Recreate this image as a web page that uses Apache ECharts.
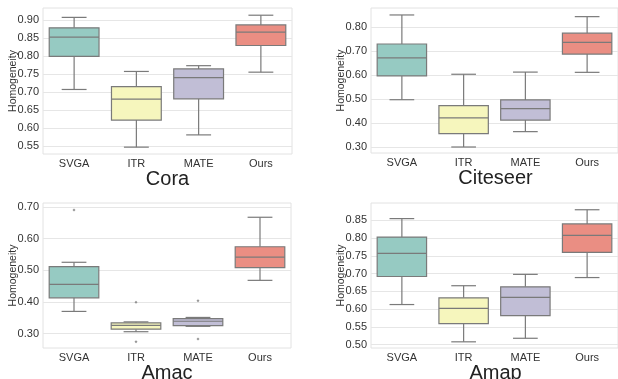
<!DOCTYPE html>
<html>
<head>
<meta charset="utf-8">
<script src="https://cdn.jsdelivr.net/npm/echarts@6/dist/echarts.min.js"></script>
<style>html,body{margin:0;padding:0;background:#fff;}#c{width:618px;height:379px;}</style>
</head>
<body>
<div id="c"></div>
<script>
// ---- data ----
const categories = ['SVGA', 'ITR', 'MATE', 'Ours'];
// [min whisker, Q1, median, Q3, max whisker]
const coraStats = [[0.707, 0.799, 0.852, 0.878, 0.907], [0.547, 0.622, 0.680, 0.715, 0.757], [0.581, 0.681, 0.740, 0.764, 0.773], [0.755, 0.829, 0.866, 0.886, 0.913]];
const citeseerStats = [[0.497, 0.596, 0.671, 0.729, 0.850], [0.300, 0.356, 0.421, 0.472, 0.603], [0.364, 0.412, 0.460, 0.496, 0.612], [0.611, 0.687, 0.736, 0.774, 0.843]];
const amacStats = [[0.370, 0.413, 0.455, 0.511, 0.525], [0.306, 0.314, 0.326, 0.334, 0.337], [0.323, 0.325, 0.339, 0.347, 0.351], [0.468, 0.508, 0.541, 0.574, 0.667]];
const amacOutliers = [[0, 0.690], [1, 0.399], [1, 0.274], [2, 0.404], [2, 0.283]];
const amapStats = [[0.613, 0.692, 0.757, 0.803, 0.855], [0.508, 0.559, 0.602, 0.632, 0.666], [0.518, 0.582, 0.633, 0.663, 0.698], [0.689, 0.760, 0.808, 0.840, 0.880]];
const coraTicks = [0.55, 0.60, 0.65, 0.70, 0.75, 0.80, 0.85, 0.90];
const citeseerTicks = [0.30, 0.40, 0.50, 0.60, 0.70, 0.80];
const amacTicks = [0.30, 0.40, 0.50, 0.60, 0.70];
const amapTicks = [0.50, 0.55, 0.60, 0.65, 0.70, 0.75, 0.80, 0.85];
const titles = ['Cora', 'Citeseer', 'Amac', 'Amap'];

// ---- style ----
const palette = ['#96cac2', '#f6f6bd', '#c1bed6', '#ea8e83'];
const lineGray = '#7a7a7a';
const font = 'Liberation Sans, Arial, sans-serif';

const panels = [
  { stats: coraStats, ticks: coraTicks, range: [0.528, 0.933], grid: { left: 43, top: 8, width: 249, height: 146 }, outliers: [] },
  { stats: citeseerStats, ticks: citeseerTicks, range: [0.275, 0.879], grid: { left: 371, top: 8, width: 249, height: 145 }, outliers: [] },
  { stats: amacStats, ticks: amacTicks, range: [0.2546, 0.712], grid: { left: 43, top: 203, width: 248, height: 145 }, outliers: amacOutliers },
  { stats: amapStats, ticks: amapTicks, range: [0.4906, 0.899], grid: { left: 371, top: 203, width: 249, height: 145 }, outliers: [] }
];

function renderBox(params, api) {
  const i = api.value(0);
  const band = api.size([1, 0])[0];
  const bw = band * 0.8, cw = band * 0.4;
  const pMin = api.coord([i, api.value(1)]);
  const pQ1 = api.coord([i, api.value(2)]);
  const pMed = api.coord([i, api.value(3)]);
  const pQ3 = api.coord([i, api.value(4)]);
  const pMax = api.coord([i, api.value(5)]);
  const x = pMed[0];
  const ls = { stroke: lineGray, lineWidth: 1.2 };
  return {
    type: 'group',
    children: [
      { type: 'line', shape: { x1: x, y1: pQ1[1], x2: x, y2: pMin[1] }, style: ls },
      { type: 'line', shape: { x1: x, y1: pQ3[1], x2: x, y2: pMax[1] }, style: ls },
      { type: 'line', shape: { x1: x - cw / 2, y1: pMin[1], x2: x + cw / 2, y2: pMin[1] }, style: ls },
      { type: 'line', shape: { x1: x - cw / 2, y1: pMax[1], x2: x + cw / 2, y2: pMax[1] }, style: ls },
      { type: 'rect', shape: { x: x - bw / 2, y: pQ3[1], width: bw, height: pQ1[1] - pQ3[1] }, style: { fill: palette[i], stroke: lineGray, lineWidth: 1.2 } },
      { type: 'line', shape: { x1: x - bw / 2, y1: pMed[1], x2: x + bw / 2, y2: pMed[1] }, style: ls }
    ]
  };
}

const grid = [], xAxis = [], yAxis = [], series = [], title = [];
panels.forEach((p, k) => {
  grid.push(Object.assign({ show: true, borderColor: '#e2e2e2', borderWidth: 1, backgroundColor: '#fff' }, p.grid));
  xAxis.push({
    type: 'category', gridIndex: k, data: categories,
    axisLine: { show: false }, axisTick: { show: false },
    axisLabel: { color: '#333', fontSize: 11, fontFamily: font, margin: 4 },
    splitLine: { show: false }
  });
  yAxis.push({
    type: 'value', gridIndex: k, min: p.range[0], max: p.range[1],
    name: 'Homogeneity', nameLocation: 'middle', nameGap: 24, nameRotate: 90, nameMoveOverlap: false,
    nameTextStyle: { color: '#333', fontSize: 10.5, fontFamily: font },
    axisLine: { show: false },
    axisTick: { show: false, customValues: p.ticks },
    axisLabel: { color: '#333', fontSize: 11, fontFamily: font, margin: 4, customValues: p.ticks, formatter: v => v.toFixed(2) },
    splitLine: { show: true, lineStyle: { color: '#e6e6e6', width: 1 } }
  });
  series.push({
    type: 'custom', xAxisIndex: k, yAxisIndex: k,
    renderItem: renderBox,
    data: p.stats.map((s, i) => [i].concat(s)),
    encode: { x: 0, y: [1, 2, 3, 4, 5] },
    silent: true
  });
  if (p.outliers.length) {
    series.push({
      type: 'scatter', xAxisIndex: k, yAxisIndex: k,
      data: p.outliers, symbol: 'diamond', symbolSize: 3,
      itemStyle: { color: lineGray }, silent: true
    });
  }
  title.push({
    text: titles[k], left: p.grid.left + p.grid.width / 2 - 5, top: p.grid.top + p.grid.height + 10,
    textAlign: 'center',
    textStyle: { color: '#222', fontSize: 20, fontWeight: 'normal', fontFamily: font }
  });
});

const chart = echarts.init(document.getElementById('c'), null, { renderer: 'canvas' });
chart.setOption({ animation: false, backgroundColor: '#fff', title, grid, xAxis, yAxis, series });
</script>
</body>
</html>
